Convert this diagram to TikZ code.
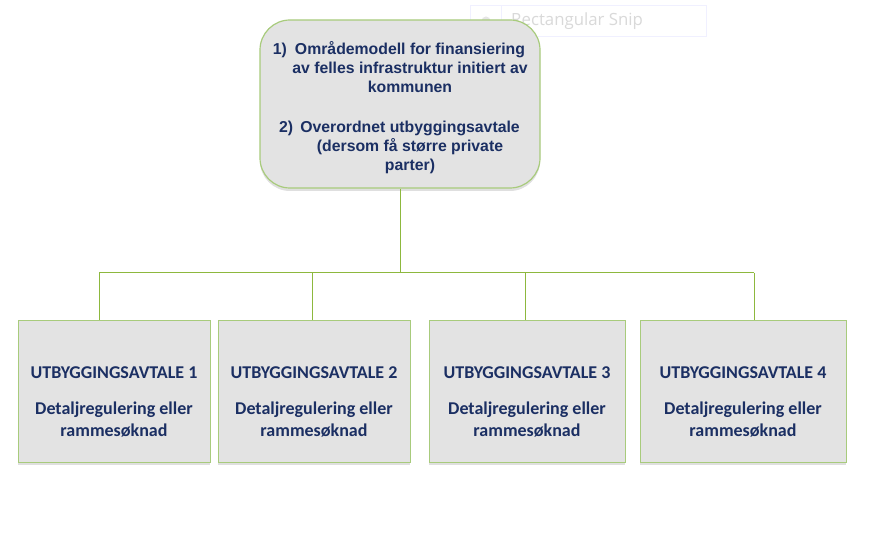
\documentclass[tikz,border=0pt]{standalone}
\usepackage{fontspec}
\setmainfont{Liberation Sans}
\newfontfamily\calib{Carlito}
\newfontfamily\uifont{Open Sans}
\usetikzlibrary{shadows}
\definecolor{navy}{HTML}{1B2F63}
\definecolor{boxfill}{HTML}{E3E3E3}
\definecolor{boxline}{HTML}{A8CB7C}
\definecolor{conn}{HTML}{8DB83E}
\begin{document}
\begin{tikzpicture}[x=1pt,y=-1pt,
  topbox/.style={draw=boxline, line width=1.2pt, fill=boxfill, rounded corners=30pt,
     minimum width=280pt, minimum height=168pt, inner sep=0pt,
     drop shadow={shadow xshift=0pt, shadow yshift=-3pt, opacity=0.25, fill=black!50}},
  subbox/.style={draw=boxline, line width=1pt, fill=boxfill, minimum height=142pt, inner sep=0pt,
     drop shadow={shadow xshift=0pt, shadow yshift=-3pt, opacity=0.25, fill=black!50}},
  toptext/.style={font=\bfseries\fontsize{15.8}{19}\selectfont, text=navy, align=center},
  subtext/.style={font=\calib\bfseries\fontsize{18}{22}\selectfont, text=navy, align=center},
  connector/.style={draw=conn, line width=1pt},
  snipbox/.style={draw=blue!6, fill=white, line width=0.8pt}]
\useasboundingbox (0,0) rectangle (869,534);
% faint overlay
\node[snipbox, minimum width=236pt, minimum height=31pt, inner sep=0pt] (snip) at (588,20.5) {};
\draw[draw=blue!6, line width=0.6pt] (501,5) -- (501,36);
\fill[black!10] (486,21) circle (4.5pt);
\node[font=\uifont\fontsize{16.8}{18}\selectfont, text=black!15, anchor=west, inner sep=0pt] (sniptext) at (511,21.5) {Rectangular Snip};
% top box
\node[topbox] (top) at (400,104) {};
\node[toptext] (toptxt) at (410,108) {\llap{1)\hspace{8pt}}Områdemodell for finansiering\\
  av felles infrastruktur initiert av\\
  kommunen\\[21pt]
  \llap{2)\hspace{7pt}}Overordnet utbyggingsavtale\\
  (dersom få større private\\
  parter)};
% sub boxes
\node[subbox, minimum width=192pt] (b1) at (114,391) {};
\node[subbox, minimum width=192pt] (b2) at (314,391) {};
\node[subbox, minimum width=196pt] (b3) at (527,391) {};
\node[subbox, minimum width=206pt] (b4) at (743,391) {};
\foreach \i/\x in {1/114,2/314,3/527,4/743}{
  \node[subtext] (t\i) at (\x,402) {UTBYGGINGSAVTALE \i\\[14pt]Detaljregulering eller\\rammesøknad};
}
% connectors
\coordinate (hub) at (400,273);
\coordinate (h1) at (99,273);
\coordinate (h2) at (312,273);
\coordinate (h3) at (525,273);
\coordinate (h4) at (754,273);
\draw[connector] (top.south) -- (hub);
\draw[connector] (h1) -- (h4);
\draw[connector] (h1) -- (h1 |- b1.north);
\draw[connector] (h2) -- (h2 |- b2.north);
\draw[connector] (h3) -- (h3 |- b3.north);
\draw[connector] (h4) -- (h4 |- b4.north);
\end{tikzpicture}
\end{document}
